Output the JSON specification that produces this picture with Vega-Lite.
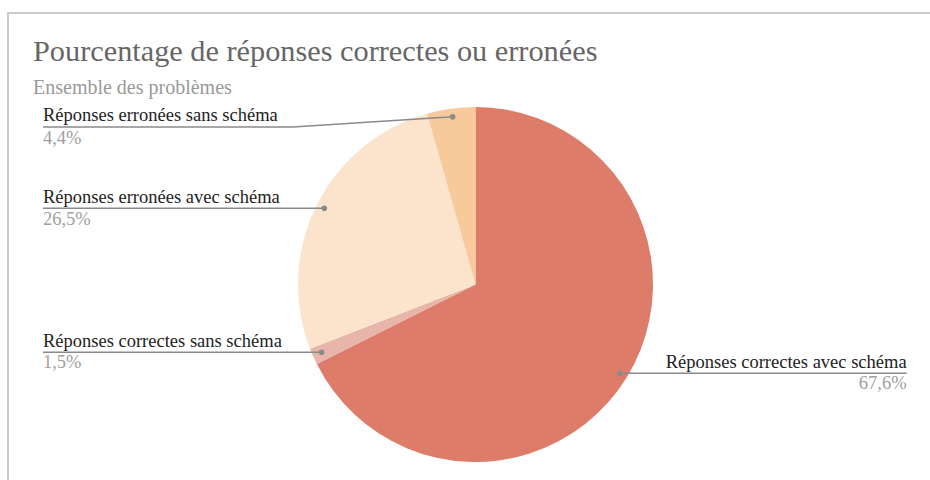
{
  "$schema": "https://vega.github.io/schema/vega-lite/v6.json",
  "autosize": {"type": "none"},
  "padding": {"left": 8, "top": 13, "right": 0, "bottom": 0},
  "width": 935,
  "height": 543,
  "background": "white",
  "title": {
    "text": "Pourcentage de réponses correctes ou erronées",
    "subtitle": "Ensemble des problèmes",
    "anchor": "start",
    "frame": "group",
    "offset": -85,
    "dx": 25,
    "font": "Liberation Serif",
    "fontSize": 30.3,
    "fontWeight": "normal",
    "color": "#666666",
    "subtitleFont": "Liberation Serif",
    "subtitleFontSize": 20,
    "subtitleColor": "#999999",
    "subtitlePadding": 11
  },
  "config": {
    "view": {"stroke": "#cccccc", "strokeWidth": 2},
    "locale": {"number": {"decimal": ",", "thousands": " ", "grouping": [3], "currency": ["", " €"]}},
    "text": {"font": "Liberation Serif"}
  },
  "datasets": {
    "parts": [
      {"categorie": "Réponses correctes avec schéma", "part": 0.676, "ordre": 1},
      {"categorie": "Réponses correctes sans schéma", "part": 0.015, "ordre": 2},
      {"categorie": "Réponses erronées avec schéma", "part": 0.265, "ordre": 3},
      {"categorie": "Réponses erronées sans schéma", "part": 0.044, "ordre": 4}
    ],
    "etiquettes": [
      {"categorie": "Réponses correctes avec schéma", "part": 0.676, "cote": "droite", "u": 2.429, "v_nom": -0.472, "v_pct": -0.589},
      {"categorie": "Réponses correctes sans schéma", "part": 0.015, "cote": "gauche", "u": -2.437, "v_nom": -0.350, "v_pct": -0.470},
      {"categorie": "Réponses erronées avec schéma", "part": 0.265, "cote": "gauche", "u": -2.437, "v_nom": 0.459, "v_pct": 0.335},
      {"categorie": "Réponses erronées sans schéma", "part": 0.044, "cote": "gauche", "u": -2.437, "v_nom": 0.921, "v_pct": 0.794}
    ],
    "traits": [
      {"categorie": "Réponses correctes avec schéma", "i": 1, "u": 0.814, "v": -0.500},
      {"categorie": "Réponses correctes avec schéma", "i": 2, "u": 2.429, "v": -0.500},
      {"categorie": "Réponses correctes sans schéma", "i": 1, "u": -0.867, "v": -0.382},
      {"categorie": "Réponses correctes sans schéma", "i": 2, "u": -2.437, "v": -0.382},
      {"categorie": "Réponses erronées avec schéma", "i": 1, "u": -0.852, "v": 0.429},
      {"categorie": "Réponses erronées avec schéma", "i": 2, "u": -2.437, "v": 0.429},
      {"categorie": "Réponses erronées sans schéma", "i": 1, "u": -0.129, "v": 0.945},
      {"categorie": "Réponses erronées sans schéma", "i": 2, "u": -1.028, "v": 0.887},
      {"categorie": "Réponses erronées sans schéma", "i": 3, "u": -2.437, "v": 0.887}
    ],
    "points": [
      {"categorie": "Réponses correctes avec schéma", "u": 0.814, "v": -0.500},
      {"categorie": "Réponses correctes sans schéma", "u": -0.867, "v": -0.382},
      {"categorie": "Réponses erronées avec schéma", "u": -0.852, "v": 0.429},
      {"categorie": "Réponses erronées sans schéma", "u": -0.129, "v": 0.945}
    ]
  },
  "layer": [
    {
      "data": {"name": "parts"},
      "mark": {"type": "arc", "outerRadius": 177.5, "stroke": null},
      "encoding": {
        "theta": {"field": "part", "type": "quantitative", "stack": true},
        "order": {"field": "ordre", "type": "quantitative"},
        "color": {
          "field": "categorie",
          "type": "nominal",
          "scale": {
            "domain": ["Réponses correctes avec schéma", "Réponses correctes sans schéma", "Réponses erronées avec schéma", "Réponses erronées sans schéma"],
            "range": ["#de7c6a", "#e8b5ab", "#fbe3cc", "#f7c99b"]
          },
          "legend": null
        }
      }
    },
    {
      "data": {"name": "traits"},
      "mark": {"type": "line", "color": "#8a8a8a", "strokeWidth": 1.5},
      "encoding": {
        "x": {"field": "u", "type": "quantitative", "scale": {"domain": [-2.634, 2.634]}, "axis": null},
        "y": {"field": "v", "type": "quantitative", "scale": {"domain": [-1.530, 1.530]}, "axis": null},
        "detail": {"field": "categorie"},
        "order": {"field": "i"}
      }
    },
    {
      "data": {"name": "points"},
      "mark": {"type": "point", "filled": true, "color": "#8a8a8a", "size": 32, "opacity": 1},
      "encoding": {
        "x": {"field": "u", "type": "quantitative", "scale": {"domain": [-2.634, 2.634]}, "axis": null},
        "y": {"field": "v", "type": "quantitative", "scale": {"domain": [-1.530, 1.530]}, "axis": null}
      }
    },
    {
      "data": {"name": "etiquettes"},
      "transform": [{"filter": "datum.cote == 'gauche'"}],
      "layer": [
        {
          "mark": {"type": "text", "align": "left", "baseline": "alphabetic", "fontSize": 18.5, "color": "#222222"},
          "encoding": {
            "x": {"field": "u", "type": "quantitative", "scale": {"domain": [-2.634, 2.634]}, "axis": null},
            "y": {"field": "v_nom", "type": "quantitative", "scale": {"domain": [-1.530, 1.530]}, "axis": null},
            "text": {"field": "categorie"}
          }
        },
        {
          "mark": {"type": "text", "align": "left", "baseline": "alphabetic", "fontSize": 18.5, "color": "#a0a0a0"},
          "encoding": {
            "x": {"field": "u", "type": "quantitative", "scale": {"domain": [-2.634, 2.634]}, "axis": null},
            "y": {"field": "v_pct", "type": "quantitative", "scale": {"domain": [-1.530, 1.530]}, "axis": null},
            "text": {"field": "part", "format": ".1%"}
          }
        }
      ]
    },
    {
      "data": {"name": "etiquettes"},
      "transform": [{"filter": "datum.cote == 'droite'"}],
      "layer": [
        {
          "mark": {"type": "text", "align": "right", "baseline": "alphabetic", "fontSize": 18.5, "color": "#222222"},
          "encoding": {
            "x": {"field": "u", "type": "quantitative", "scale": {"domain": [-2.634, 2.634]}, "axis": null},
            "y": {"field": "v_nom", "type": "quantitative", "scale": {"domain": [-1.530, 1.530]}, "axis": null},
            "text": {"field": "categorie"}
          }
        },
        {
          "mark": {"type": "text", "align": "right", "baseline": "alphabetic", "fontSize": 18.5, "color": "#a0a0a0"},
          "encoding": {
            "x": {"field": "u", "type": "quantitative", "scale": {"domain": [-2.634, 2.634]}, "axis": null},
            "y": {"field": "v_pct", "type": "quantitative", "scale": {"domain": [-1.530, 1.530]}, "axis": null},
            "text": {"field": "part", "format": ".1%"}
          }
        }
      ]
    }
  ]
}
